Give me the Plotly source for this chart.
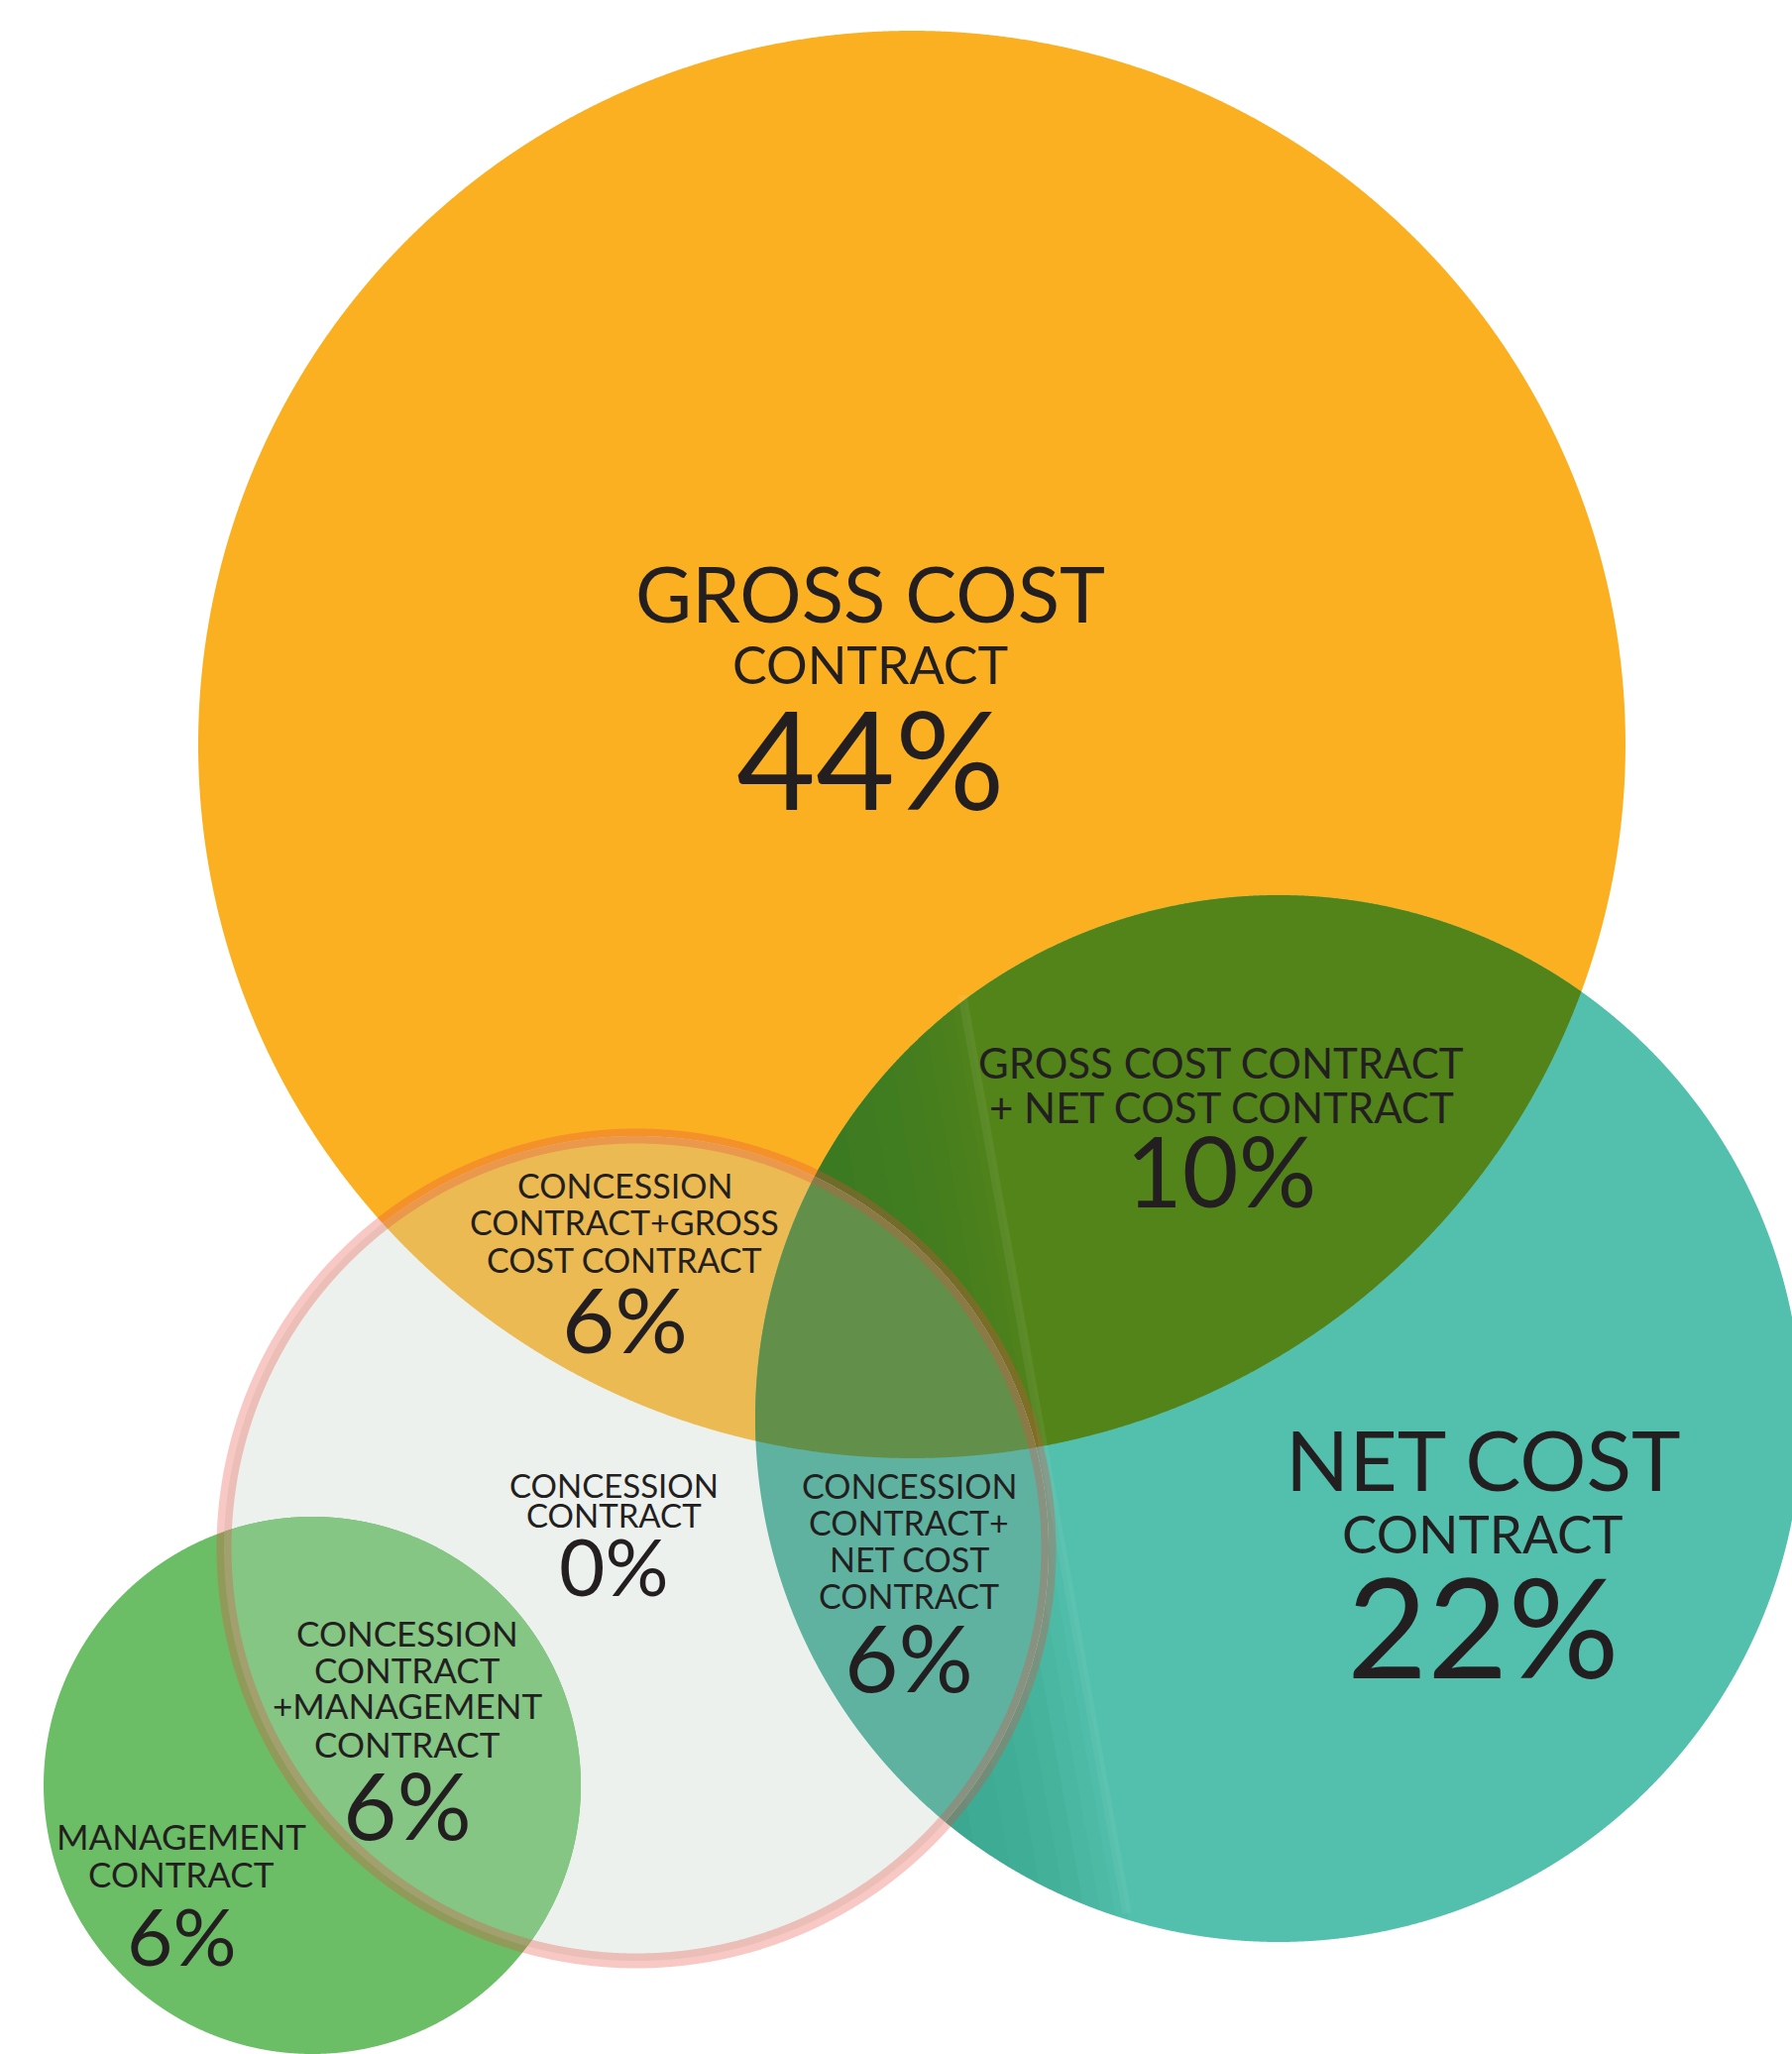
import numpy as np
import plotly.graph_objects as go

# ---------------- data ----------------
region_names = ["Gross cost contract", "Net cost contract", "Gross cost + Net cost",
                "Concession + Gross cost", "Concession", "Concession + Net cost",
                "Concession + Management", "Management"]
shares = [44, 22, 10, 6, 0, 6, 6, 6]
label_lines = [
    ["GROSS COST", "CONTRACT"],
    ["NET COST", "CONTRACT"],
    ["GROSS COST CONTRACT", "+ NET COST CONTRACT"],
    ["CONCESSION", "CONTRACT+GROSS", "COST CONTRACT"],
    ["CONCESSION", "CONTRACT"],
    ["CONCESSION", "CONTRACT+", "NET COST", "CONTRACT"],
    ["CONCESSION", "CONTRACT", "+MANAGEMENT", "CONTRACT"],
    ["MANAGEMENT", "CONTRACT"],
]

# ---------------- layout / geometry ----------------
W, H = 1808, 2072
circles = {
    "gross": (920, 751, 720),
    "net": (1290, 1431, 528),
    "conc": (642, 1562, 416),
    "mgmt": (315, 1801, 271),
}
label_pos = [  # x, [(y, size) per line], (pct y, pct size)
    (878, [(598, 78), (670, 52)], (763, 138)),
    (1496, [(1471, 84), (1546, 53)], (1639, 140)),
    (1232, [(1072, 42), (1117, 42)], (1180, 98)),
    (630, [(1195, 34), (1232, 34), (1270, 34)], (1329, 92)),
    (619, [(1498, 33), (1528, 33)], (1579, 80)),
    (917, [(1498, 34), (1535, 34), (1572, 34), (1609, 34)], (1670, 94)),
    (411, [(1647, 35), (1684, 35), (1720, 35), (1759, 35)], (1819, 94)),
    (183, [(1852, 35), (1890, 35)], (1952, 80)),
]
TEXT = "#231F20"
FONT = "Lato"

regions_below = [
    (["gross"], "#FBB022"),
    (["net"], "#52C0AD"),
    (["gross", "net"], "#52841A"),
]
regions_above = [
    (["conc"], "#EDF1ED"),
    (["conc", "gross"], "#EBBA52"),
    (["conc", "net"], "#5FB2A0"),
    (["conc", "gross", "net"], "#62904A"),
    (["mgmt"], "#6BBE66"),
    (["mgmt", "conc"], "#85C684"),
]
# soft shading across the net-cost circle
streak_p1, streak_p2 = (971, 1004), (1137, 1930)
shade_offsets = [0, 12, 26, 42, 60, 82, 108, 140, 180]


def disk_intersection(names, n=3000):
    cs = [circles[k] for k in names]
    pts = []
    for i, (cx, cy, r) in enumerate(cs):
        t = np.linspace(0, 2 * np.pi, n, endpoint=False)
        x = cx + r * np.cos(t)
        y = cy + r * np.sin(t)
        m = np.ones(n, bool)
        for j, (ox, oy, orr) in enumerate(cs):
            if j != i:
                m &= (x - ox) ** 2 + (y - oy) ** 2 <= orr ** 2 * (1 + 1e-9)
        pts.append(np.c_[x[m], y[m]])
    P = np.vstack(pts)
    c = P.mean(0)
    P = P[np.argsort(np.arctan2(P[:, 1] - c[1], P[:, 0] - c[0]))]
    return P


def clip_halfplane(P, p1, p2, offset):
    d = np.array(p2, float) - np.array(p1, float)
    L = np.hypot(*d)

    def s(p):
        return ((p[0] - p1[0]) * d[1] - (p[1] - p1[1]) * d[0]) / L + offset

    out = []
    n = len(P)
    for i in range(n):
        a, b = P[i], P[(i + 1) % n]
        sa, sb = s(a), s(b)
        if sa <= 0:
            out.append(a)
        if (sa <= 0) != (sb <= 0):
            tt = sa / (sa - sb)
            out.append(a + tt * (b - a))
    return np.array(out)


def add_poly(fig, P, col):
    P = np.vstack([P, P[:1]])
    fig.add_trace(go.Scatter(x=P[:, 0], y=P[:, 1], mode="lines", fill="toself",
                             fillcolor=col, line=dict(width=0, color=col, simplify=False),
                             hoverinfo="skip", showlegend=False))


fig = go.Figure()
for names, col in regions_below:
    add_poly(fig, disk_intersection(names), col)

net_poly = disk_intersection(["net"])
for off in shade_offsets:
    Q = clip_halfplane(net_poly, streak_p1, streak_p2, off)
    if len(Q) > 2:
        add_poly(fig, Q, "rgba(0,95,60,0.032)")
# faint light streak
fig.add_trace(go.Scatter(x=[streak_p1[0], streak_p2[0]], y=[streak_p1[1], streak_p2[1]],
                         mode="lines", line=dict(width=9, color="rgba(255,255,255,0.06)"),
                         hoverinfo="skip", showlegend=False))

for names, col in regions_above:
    add_poly(fig, disk_intersection(names), col)

# concession border
cx, cy, r = circles["conc"]
t = np.linspace(0, 2 * np.pi, 3001)
fig.add_trace(go.Scatter(x=cx + r * np.cos(t), y=cy + r * np.sin(t), mode="lines",
                         line=dict(width=15, color="rgba(231,72,58,0.30)", simplify=False),
                         hoverinfo="skip", showlegend=False))

ann = []
for lines, share, (x, spec, (py, psz)) in zip(label_lines, shares, label_pos):
    for txt, (y, sz) in zip(lines, spec):
        ann.append(dict(x=x, y=y, text=txt, showarrow=False, xanchor="center",
                        yanchor="middle", font=dict(family=FONT, size=sz, color=TEXT)))
    ann.append(dict(x=x, y=py, text=f"{share}%", showarrow=False, xanchor="center",
                    yanchor="middle", font=dict(family=FONT, size=psz, color=TEXT)))

fig.update_layout(
    width=W, height=H, margin=dict(l=0, r=0, t=0, b=0),
    paper_bgcolor="white", plot_bgcolor="white",
    xaxis=dict(range=[0, W], visible=False, fixedrange=True),
    yaxis=dict(range=[H, 0], visible=False, fixedrange=True),
    annotations=ann, showlegend=False,
)
fig.write_html("out.html")
